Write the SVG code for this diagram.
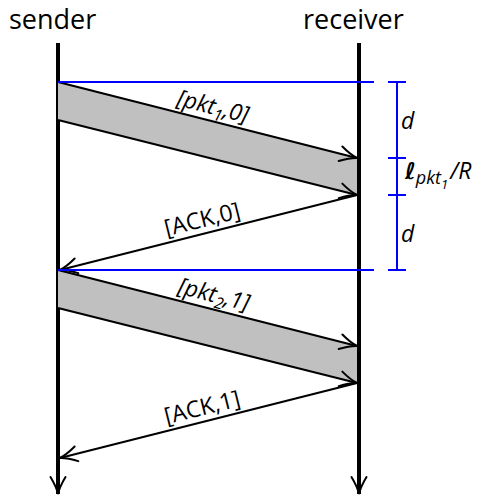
<svg xmlns="http://www.w3.org/2000/svg" width="484" height="496" viewBox="0 0 484 496">
<defs>
<style>
text{font-family:"Open Sans","Noto Sans","DejaVu Sans",sans-serif;fill:#000}
.title{font-size:27px}
.lbl{font-size:23px;font-style:italic}
.ack{font-size:23px}
.ell{font-family:"DejaVu Sans",sans-serif;font-size:23px}
.life{stroke:#000;stroke-width:4;fill:none}
.msg{stroke:#000;stroke-width:2;fill:none}
.pkt{fill:#c0c0c0;stroke:none}
.blue{stroke:#0000ff;stroke-width:2;fill:none}
</style>
<marker id="ah" markerUnits="userSpaceOnUse" viewBox="-20 -10 22 20" refX="0" refY="0" markerWidth="22" markerHeight="20" orient="auto" overflow="visible">
<path d="M-17,-7.5 Q-7,-1.5 0,0 Q-7,1.5 -17,7.5" fill="none" stroke="#000" stroke-width="2" stroke-linecap="round"/>
</marker>
</defs>
<g id="sender">
<text class="title" x="9" y="29">sender</text>
<line class="life" x1="58" y1="43" x2="58" y2="494" marker-end="url(#ah)"/>
</g>
<g id="receiver">
<text class="title" x="303" y="29">receiver</text>
<line class="life" x1="359" y1="43" x2="359" y2="494" marker-end="url(#ah)"/>
</g>
<g id="packet1">
<polygon class="pkt" points="58,82 357,158 357,195 58,120"/>
<text class="lbl" transform="translate(211,114) rotate(14.17)" text-anchor="middle">[pkt<tspan font-size="16" dy="5">1</tspan><tspan dy="-5">,0]</tspan></text>
</g>
<g id="packet2">
<polygon class="pkt" points="58,270 357,346 357,383 58,308"/>
<text class="lbl" transform="translate(212,302) rotate(14.17)" text-anchor="middle">[pkt<tspan font-size="16" dy="5">2</tspan><tspan dy="-5">,1]</tspan></text>
</g>
<g id="connectors">
<line class="msg" x1="58" y1="82" x2="357" y2="158" marker-end="url(#ah)"/>
<line class="msg" x1="58" y1="120" x2="357" y2="195" marker-end="url(#ah)"/>
<line class="msg" x1="357" y1="195" x2="60" y2="270" marker-end="url(#ah)"/>
<line class="msg" x1="58" y1="270" x2="357" y2="346" marker-end="url(#ah)"/>
<line class="msg" x1="58" y1="308" x2="357" y2="383" marker-end="url(#ah)"/>
<line class="msg" x1="357" y1="383" x2="60" y2="458" marker-end="url(#ah)"/>
</g>
<g id="ack0">
<text class="ack" transform="translate(204,227) rotate(-13.99)" text-anchor="middle">[ACK,0]</text>
</g>
<g id="ack1">
<text class="ack" transform="translate(204,415) rotate(-13.99)" text-anchor="middle">[ACK,1]</text>
</g>
<g id="timing">
<line class="blue" x1="58" y1="82" x2="374" y2="82"/>
<line class="blue" x1="58" y1="270" x2="374" y2="270"/>
<line class="blue" x1="397" y1="82" x2="397" y2="270"/>
<line class="blue" x1="388" y1="82" x2="406" y2="82"/>
<line class="blue" x1="388" y1="158" x2="406" y2="158"/>
<line class="blue" x1="388" y1="195" x2="406" y2="195"/>
<line class="blue" x1="388" y1="270" x2="406" y2="270"/>
<text class="lbl" x="401" y="129">d</text>
<text class="lbl" x="401" y="242">d</text>
<text class="lbl" x="405" y="179"><tspan class="ell" font-style="italic" font-weight="bold">ℓ</tspan><tspan font-size="18" dy="5">pkt</tspan><tspan font-size="13" dy="5">1</tspan><tspan font-size="23" dx="2" dy="-10">/R</tspan></text>
</g>
</svg>
